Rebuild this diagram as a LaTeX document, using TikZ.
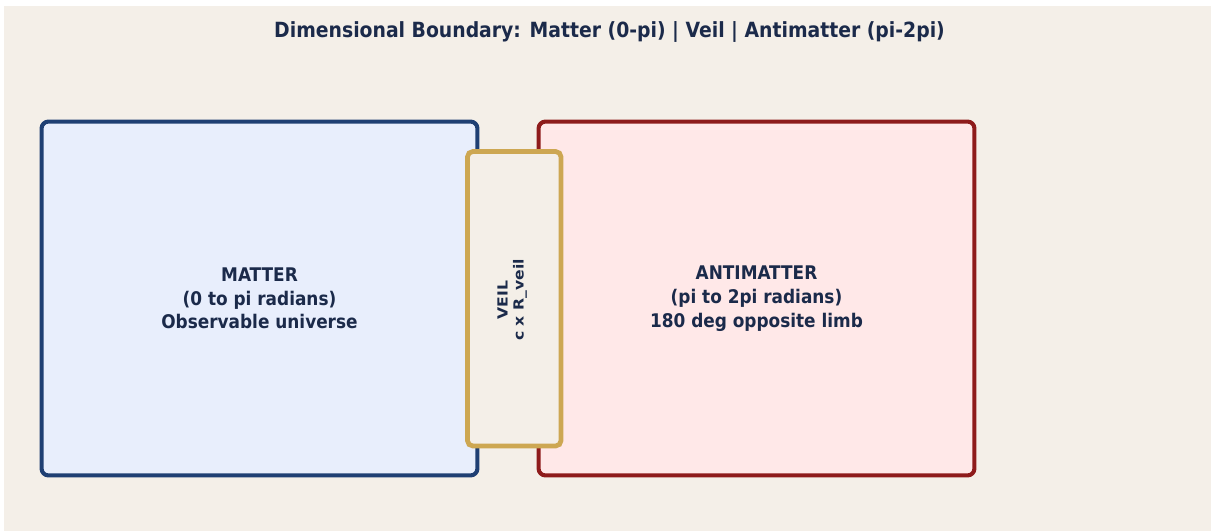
\documentclass[tikz,border=0pt]{standalone}
\usepackage{fontspec}
\setmainfont{DejaVu Sans Condensed}
\newfontfamily\veilfont{DejaVu Sans}
\definecolor{inkc}{HTML}{1B2A4A}
\definecolor{paperc}{HTML}{F4EFE8}
\definecolor{matterline}{HTML}{1F3F73}
\definecolor{matterfill}{HTML}{E8EEFC}
\definecolor{antiline}{HTML}{8E1B1B}
\definecolor{antifill}{HTML}{FFE8E8}
\definecolor{veilline}{HTML}{CDA752}
\begin{document}
\begin{tikzpicture}[x=0.02cm,y=-0.02cm,
    region/.style={rounded corners=4pt, line width=2.3pt, minimum width=8.72cm,
        minimum height=7.08cm, align=center, text=inkc, font=\fontsize{10.7}{13.5}\selectfont\bfseries},
    veilbox/.style={rounded corners=3pt, line width=2.7pt, draw=veilline, fill=paperc,
        minimum width=1.87cm, minimum height=5.89cm},
    ]
    \useasboundingbox (0,0) rectangle (1211,531);
    \fill[white] (0,0) rectangle (1211,531);
    \fill[paperc] (4,6) rectangle (1211,531);
    % title
    \node[anchor=base, text=inkc, font=\fontsize{11.9}{14}\selectfont\bfseries] (title) at (609.5,37.7)
        {Dimensional Boundary: Matter (0-pi) | Veil | Antimatter (pi-2pi)};
    % the two halves
    \node[region, draw=matterline, fill=matterfill] (matter) at (259.5,298.5)
        {MATTER\\(0 to pi radians)\\Observable universe};
    \node[region, draw=antiline, fill=antifill] (anti) at (756.5,298.5)
        {ANTIMATTER\\(pi to 2pi radians)\\180 deg opposite limb};
    % veil on top
    \node[veilbox] (veil) at (514.25,298.75) {};
    \node[rotate=90, inner sep=0pt, text=inkc, font=\veilfont\fontsize{8.9}{10.2}\selectfont\bfseries]
        (veiltext) at (512.5,300) {\scalebox{1}[0.89]{\begin{tabular}{@{}c@{}}VEIL\\c x R\_veil\end{tabular}}};
\end{tikzpicture}
\end{document}
